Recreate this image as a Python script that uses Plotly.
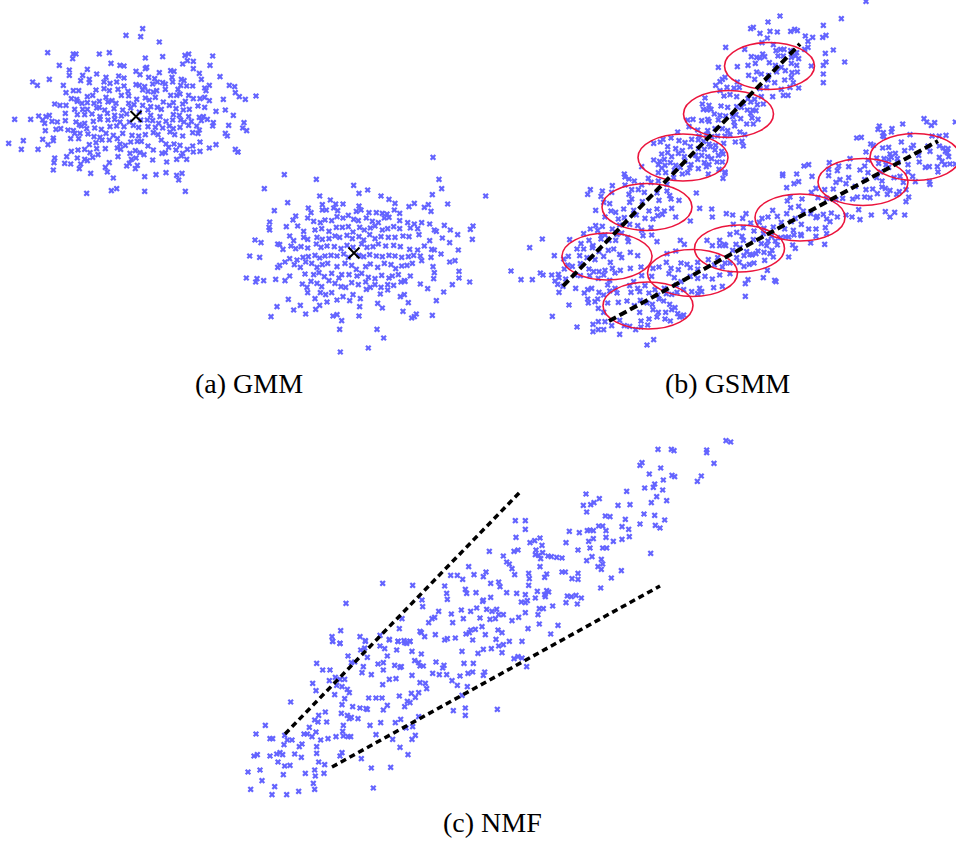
import plotly.graph_objects as go

W, H = 956, 843
UNITS_PER_PX = 3  # point coordinates below are recorded at 3 units per pixel, per tile

# ---------------- (a) GMM : two Gaussian clusters ----------------
gmm_cluster_1 = [
    (428,26),(378,46),(422,50),(478,66),(143,98),(220,102),(228,102),(298,102),(328,98),(218,116),
    (436,114),(488,110),(555,106),(566,102),(638,108),(178,136),(333,130),(360,136),(372,138),(440,142),
    (436,146),(548,132),(562,122),(580,124),(580,146),(630,136),(208,150),(262,148),(408,154),(420,164),
    (478,158),(512,152),(522,154),(598,160),(208,166),(248,166),(290,162),(318,172),(356,168),(372,174),
    (446,172),(464,176),(516,172),(544,178),(552,182),(604,178),(660,170),(98,186),(112,196),(148,178),
    (190,196),(242,182),(268,178),(268,188),(312,186),(330,190),(350,186),(372,198),(408,194),(418,196),
    (434,200),(458,192),(472,186),(488,188),(496,192),(518,186),(542,196),(578,198),(628,196),(688,196),
    (704,200),(220,212),(236,212),(198,218),(288,210),(312,206),(328,212),(354,208),(384,214),(428,210),
    (444,214),(460,216),(470,212),(496,208),(534,208),(560,198),(614,204),(618,212),(706,218),(768,228),
    (718,230),(736,238),(214,236),(230,238),(262,230),(278,226),(318,232),(336,242),(364,226),(386,228),
    (410,238),(436,234),(448,240),(466,232),(490,246),(512,226),(530,226),(540,222),(566,226),(580,236),
    (600,236),(614,232),(628,242),(670,238),(164,252),(180,256),(198,256),(232,244),(246,250),(262,248),
    (282,250),(298,244),(324,246),(348,250),(386,250),(402,254),(428,256),(452,260),(472,262),(508,256),
    (520,248),(548,252),(556,244),(594,258),(614,262),(224,268),(248,268),(262,268),(290,264),(298,262),
    (314,270),(342,266),(368,270),(392,264),(418,276),(444,270),(484,268),(528,266),(550,270),(568,268),
    (648,274),(676,270),(44,298),(92,298),(116,288),(138,290),(148,286),(196,280),(232,284),(254,284),
    (276,282),(300,290),(322,280),(344,286),(364,288),(380,282),(452,286),(480,290),(520,284),(538,286),
    (566,290),(598,292),(610,290),(700,286),(128,300),(134,310),(156,304),(172,306),(196,302),(228,306),
    (254,310),(280,304),(300,298),(324,300),(344,298),(360,306),(388,306),(422,300),(442,300),(458,302),
    (476,310),(498,304),(518,300),(542,300),(552,306),(574,304),(604,302),(622,298),(640,308),(732,308),
    (136,332),(168,328),(182,326),(204,330),(220,332),(238,314),(244,318),(260,326),(284,324),(304,328),
    (330,320),(350,318),(372,320),(400,316),(416,322),(444,320),(466,322),(488,324),(508,318),(520,326),
    (540,322),(566,316),(590,318),(598,330),(638,318),(686,316),(728,324),(740,332),(224,340),(240,340),
    (264,342),(282,350),(300,352),(318,340),(340,346),(352,356),(368,340),(396,346),(416,348),(436,344),
    (460,338),(474,344),(510,336),(524,344),(548,348),(578,338),(594,340),(676,340),(682,348),(26,370),
    (70,362),(64,388),(114,388),(128,358),(144,374),(160,354),(160,362),(212,356),(236,356),(268,374),
    (288,368),(306,360),(328,360),(360,372),(376,376),(392,366),(412,364),(424,364),(444,378),(484,360),
    (498,372),(506,382),(522,372),(540,376),(562,388),(578,378),(600,366),(628,384),(648,374),(706,388),
    (714,396),(214,394),(234,390),(254,388),(270,398),(290,386),(316,386),(352,384),(362,388),(390,400),
    (406,392),(420,398),(432,404),(460,390),(486,400),(496,398),(528,390),(548,400),(580,396),(600,394),
    (164,414),(200,410),(212,432),(232,414),(242,432),(254,418),(262,422),(278,412),(294,404),(328,428),
    (354,410),(380,438),(394,418),(408,414),(412,436),(458,420),(500,426),(530,418),(544,408),(560,418),
    (162,428),(160,450),(194,430),(238,446),(272,460),(316,442),(322,456),(388,430),(406,446),(434,470),
    (468,464),(498,458),(530,466),(546,460),(536,480),(340,474),(260,520),(334,512),(350,506),(434,514),
    (556,514),
]

gmm_cluster_2 = [
    (8,6),(594,22),(148,74),(244,88),(612,88),(88,116),(356,106),(398,120),(620,116),(372,130),
    (254,138),(438,138),(462,148),(592,134),(752,138),(158,158),(286,150),(262,164),(302,162),(324,162),
    (372,168),(480,160),(522,170),(538,160),(568,172),(580,164),(638,162),(118,182),(220,174),(228,188),
    (262,180),(274,180),(296,174),(308,182),(340,196),(364,184),(378,180),(402,188),(424,188),(442,190),
    (456,192),(478,180),(494,190),(588,184),(182,198),(174,210),(218,204),(236,214),(256,218),(270,210),
    (290,212),(306,200),(324,204),(356,208),(370,212),(394,204),(412,214),(430,218),(448,204),(462,202),
    (494,212),(518,218),(538,222),(560,218),(584,222),(628,226),(104,216),(102,232),(104,240),(154,230),
    (188,228),(206,244),(240,240),(260,236),(282,244),(304,232),(322,232),(340,230),(354,246),(374,232),
    (388,240),(406,234),(420,228),(442,240),(458,236),(476,230),(494,236),(526,234),(548,236),(598,240),
    (604,244),(646,240),(714,228),(706,238),(60,270),(78,278),(128,282),(164,258),(176,272),(206,262),
    (218,268),(246,262),(262,268),(282,266),(300,258),(314,262),(336,256),(352,266),(372,260),(386,270),
    (404,254),(420,266),(438,260),(460,262),(480,262),(504,258),(522,260),(552,254),(584,272),(622,264),
    (668,254),(712,268),(134,284),(144,298),(168,288),(182,296),(198,290),(218,294),(244,282),(258,292),
    (276,288),(298,290),(318,296),(336,286),(354,292),(380,282),(396,292),(414,290),(430,282),(452,288),
    (476,286),(496,290),(524,298),(548,300),(568,288),(590,298),(598,300),(644,278),(670,300),(44,318),
    (74,322),(164,326),(186,330),(204,322),(220,320),(240,316),(254,324),(270,318),(288,316),(306,318),
    (326,312),(340,322),(372,316),(386,320),(404,314),(424,318),(442,320),(462,316),(480,318),(500,322),
    (520,320),(536,316),(556,318),(588,322),(618,312),(128,352),(134,346),(150,336),(178,344),(196,352),
    (212,336),(230,340),(246,352),(262,344),(278,340),(306,350),(330,340),(350,346),(364,358),(392,350),
    (406,342),(428,352),(448,340),(468,344),(482,356),(500,348),(516,346),(532,340),(560,332),(594,350),
    (644,336),(660,332),(34,384),(66,386),(62,396),(86,392),(122,388),(150,392),(164,378),(210,372),
    (236,374),(252,368),(268,380),(290,370),(312,384),(320,374),(342,374),(366,378),(380,370),(400,382),
    (420,386),(440,376),(462,384),(472,378),(490,374),(508,392),(526,378),(598,368),(596,386),(672,364),
    (672,384),(704,396),(202,402),(216,412),(228,394),(246,400),(260,410),(282,392),(300,400),(318,410),
    (332,412),(350,398),(370,404),(392,396),(406,412),(420,404),(438,412),(458,404),(476,406),(498,396),
    (510,394),(556,402),(578,416),(652,404),(218,428),(240,446),(256,428),(272,434),(290,428),(324,440),
    (354,434),(376,446),(394,418),(436,432),(458,420),(496,440),(508,434),(626,426),(160,448),(196,466),
    (242,478),(254,466),(276,456),(306,450),(344,452),(374,470),(428,460),(442,474),(520,458),(604,452),
    (126,470),(176,480),(212,492),(294,498),(306,494),(320,512),(372,498),(504,484),(544,492),(530,504),
    (538,500),(592,496),(108,500),(314,538),(426,538),(446,564),(316,606),(400,594),
]

# cluster means (figure pixels)
gmm_mean_x = [136, 354]
gmm_mean_y = [116.5, 253]

# ---------------- (b) GSMM : samples in four quadrants ----------------
gsmm_nw = [
    (662,142),(640,202),(632,256),(645,245),(652,238),(660,232),(666,262),(645,272),(657,288),(600,294),
    (592,312),(612,316),(595,328),(606,330),(618,328),(648,318),(668,322),(628,342),(645,346),(662,348),
    (548,360),(564,358),(590,362),(608,358),(612,364),(640,360),(552,380),(578,390),(608,392),(630,386),
    (652,386),(668,392),(518,396),(582,408),(604,404),(620,410),(638,408),(660,408),(474,418),(498,414),
    (522,422),(540,428),(560,418),(580,420),(596,424),(612,432),(632,436),(656,430),(446,430),(466,426),
    (488,440),(512,446),(520,460),(532,452),(556,440),(580,446),(598,448),(616,440),(630,450),(650,454),
    (470,462),(488,458),(500,470),(538,470),(572,466),(590,466),(608,470),(620,476),(640,466),(654,462),
    (446,480),(464,484),(478,478),(496,488),(512,496),(540,484),(558,494),(578,478),(598,488),(612,494),
    (636,486),(652,486),(410,500),(460,494),(470,504),(480,496),(508,510),(526,502),(554,504),(580,506),
    (604,500),(642,508),(660,516),(358,522),(460,518),(482,518),(532,522),(548,518),(610,522),(660,520),
]

gsmm_ne = [
    (408,4),(150,48),(334,56),(114,66),(62,86),(70,82),(280,76),(90,100),(120,94),(142,96),
    (182,94),(194,88),(202,92),(112,114),(226,108),(248,112),(234,124),(288,106),(278,112),(44,148),
    (96,128),(130,134),(152,148),(138,152),(162,148),(182,152),(200,158),(224,148),(234,142),(286,160),
    (310,150),(344,186),(64,170),(80,172),(98,162),(104,170),(90,174),(144,168),(160,168),(184,172),
    (196,168),(206,176),(288,186),(280,196),(22,200),(54,196),(76,190),(118,188),(136,196),(154,202),
    (184,190),(200,196),(244,198),(80,216),(94,222),(116,226),(140,216),(166,212),(186,218),(202,216),
    (22,246),(56,226),(74,238),(114,240),(134,248),(164,240),(184,232),(190,248),(280,222),(280,248),
    (12,264),(28,262),(90,266),(110,262),(154,268),(180,262),(206,264),(0,284),(20,290),(54,296),
    (74,298),(94,290),(128,290),(160,286),(174,286),(40,310),(62,306),(82,314),(100,312),(20,320),
    (34,322),(52,330),(68,330),(78,332),(62,340),(8,350),(18,344),(32,356),(66,354),(84,358),
    (12,366),(50,372),(70,372),(14,378),(30,396),(44,404),(0,404),(16,426),(36,424),(40,438),
    (582,356),(590,366),(604,376),(614,368),(676,366),(448,378),(518,372),(444,388),(460,398),(486,386),
    (484,396),(380,414),(394,412),(458,408),(462,410),(540,404),(606,408),(628,408),(648,406),(422,432),
    (430,436),(514,426),(550,436),(458,444),(476,442),(544,444),(594,438),(628,438),(640,444),(654,446),
    (408,456),(480,462),(496,460),(524,452),(600,454),(646,454),(652,458),(440,474),(462,476),(476,478),
    (484,472),(502,476),(566,466),(628,472),(656,470),(298,488),(360,476),(414,480),(446,490),(504,488),
    (534,494),(568,486),(636,484),(644,494),(660,492),(222,498),(236,494),(296,508),(326,498),(356,500),
    (404,498),(468,494),(476,502),(586,502),(598,500),(622,500),(676,492),(158,522),(200,522),(322,512),
    (390,510),(414,518),(452,516),(534,516),(624,516),
]

gsmm_sw = [
    (360,6),(372,12),(388,18),(430,10),(506,8),(654,10),(322,32),(360,30),(410,30),(438,22),
    (460,18),(486,28),(256,44),(292,48),(248,58),(288,64),(320,52),(372,58),(380,44),(400,44),
    (418,52),(456,54),(486,48),(494,62),(574,54),(296,82),(314,86),(380,72),(374,82),(412,80),
    (462,76),(498,72),(522,76),(272,106),(318,108),(332,112),(356,102),(386,106),(432,108),(456,102),
    (478,108),(500,100),(584,100),(620,102),(664,116),(300,126),(340,132),(358,128),(394,120),(420,130),
    (444,132),(458,122),(472,118),(512,126),(622,126),(272,152),(292,154),(322,162),(344,150),(374,148),
    (398,152),(410,166),(438,158),(556,138),(236,176),(256,162),(278,166),(288,182),(300,180),(336,178),
    (350,174),(368,188),(414,182),(440,180),(194,194),(112,192),(228,206),(252,196),(264,212),(288,192),
    (312,196),(332,196),(370,200),(456,200),(526,196),(538,208),(606,196),(644,196),(658,208),(74,218),
    (148,242),(176,252),(216,222),(236,222),(262,218),(282,230),(310,226),(326,222),(344,238),(376,232),
    (398,242),(512,228),(486,236),(622,212),(644,212),(662,212),(190,244),(224,242),(246,248),(270,254),
    (296,244),(316,262),(350,248),(376,280),(484,262),(528,264),(546,268),(578,262),(610,254),(638,248),
    (18,288),(106,294),(140,300),(160,298),(178,282),(188,270),(202,274),(226,266),(252,282),(266,290),
    (282,290),(300,286),(322,280),(330,294),(346,286),(408,276),(444,280),(462,276),(498,280),(520,284),
    (556,278),(578,282),(628,270),(652,276),(660,264),(48,314),(82,314),(114,300),(150,318),(162,308),
    (182,312),(210,300),(226,302),(254,302),(280,310),(296,300),(314,316),(386,320),(410,302),(440,304),
    (492,296),(508,308),(528,320),(556,304),(578,310),(600,304),(622,312),(644,300),(158,328),(174,334),
    (212,340),(248,344),(260,340),(282,352),(308,330),(330,340),(374,332),(398,340),(420,332),(450,344),
    (478,340),(514,330),(536,344),(560,350),(584,340),(626,338),(652,334),(162,352),(238,354),(248,372),
    (278,372),(296,360),(314,348),(336,354),(378,352),(404,350),(432,354),(458,360),(484,356),(500,358),
    (516,352),(578,356),(590,350),(192,390),(250,384),(270,380),(308,384),(340,382),(366,378),(388,392),
    (406,376),(426,384),(442,388),(462,372),(476,378),(494,388),(510,398),(142,424),(280,400),(296,412),
    (404,412),(444,404),(460,412),(482,412),(500,404),(518,416),(530,424),(216,456),(264,448),(280,440),
    (300,440),(320,452),(344,436),(374,454),(408,438),(432,432),(456,426),(480,432),(496,438),(524,426),
    (536,420),(264,470),(280,464),(296,464),(344,478),(358,452),(392,464),(408,456),(428,450),(446,494),
    (426,510),
]

gsmm_se = [
    (158,2),(206,20),(192,26),(246,4),(296,2),(330,14),(356,8),(404,14),(440,8),(456,18),
    (492,8),(510,4),(520,22),(548,4),(556,20),(598,20),(600,28),(170,38),(258,40),(284,44),
    (310,42),(318,22),(348,26),(376,34),(408,44),(428,42),(456,36),(466,40),(480,46),(508,50),
    (528,44),(536,66),(180,66),(172,78),(216,72),(244,52),(264,68),(290,70),(318,74),(338,70),
    (368,72),(382,66),(404,66),(420,68),(442,56),(472,58),(500,58),(528,80),(128,106),(182,98),
    (206,94),(220,108),(242,116),(262,124),(280,118),(304,114),(386,104),(466,110),(494,112),(524,120),
    (8,120),(38,130),(48,116),(96,130),(114,126),(142,124),(170,116),(184,140),(196,130),(214,148),
    (258,128),(290,132),(322,126),(348,120),(366,126),(390,134),(424,120),(480,126),(10,148),(40,158),
    (62,144),(88,142),(102,160),(130,156),(154,142),(164,162),(190,166),(212,178),(236,162),(258,162),
    (286,158),(300,140),(0,178),(20,172),(36,184),(72,168),(100,176),(124,184),(152,188),(176,186),
    (192,180),(214,182),(258,184),(290,176),(18,208),(40,196),(70,194),(94,206),(114,198),(136,198),
    (166,186),(188,210),(242,204),(284,208),(8,226),(30,218),(50,230),(66,240),(84,228),(110,212),
    (126,226),(142,210),(196,220),(20,248),(42,242),(60,238),(78,236),(102,232),(120,236),(176,246),
    (0,264),(28,262),(58,268),(104,256),(130,246),(42,274),(72,264),(112,286),(0,296),(100,308),
    (134,316),(138,320),(46,326),(54,314),(46,364),
]

# mixture components: centres and semi-axes (figure pixels)
gsmm_cx = [769.5, 728.5, 683, 647, 607, 648, 692.5, 739.5, 800, 863, 915]
gsmm_cy = [66, 114, 157.5, 207, 256.5, 305.5, 273, 248.5, 217.5, 182, 157]
gsmm_rx = [45, 45, 45, 45, 45, 45, 45, 45, 45, 45, 45]
gsmm_ry = [23.5, 23.5, 23.5, 23.5, 23.5, 23.5, 23.5, 23.5, 23.5, 23.5, 23.5]

# principal subspaces: (x0, y0, x1, y1)
gsmm_axes = [(563, 286, 800, 44), (609, 321, 938, 141)]

# ---------------- (c) NMF ----------------
nmf_low = [
    (254,4),(276,10),(352,4),(396,18),(424,0),(450,4),(470,8),(486,4),(492,34),(520,42),
    (338,30),(350,24),(358,52),(410,26),(418,48),(446,30),(300,48),(310,68),(320,66),(206,70),
    (224,90),(246,90),(346,80),(342,98),(370,104),(390,72),(406,68),(406,90),(440,76),(456,82),
    (460,80),(500,62),(512,68),(516,78),(526,78),(492,106),(262,112),(276,118),(290,118),(244,122),
    (194,130),(204,152),(266,136),(282,140),(298,148),(304,158),(404,134),(424,118),(444,116),(516,128),
    (532,130),(536,146),(490,160),(512,158),(128,186),(260,164),(290,176),(282,194),(314,200),(336,204),
    (354,206),(358,208),(362,174),(384,174),(402,174),(418,196),(406,210),(454,168),(478,184),(486,188),
    (470,200),(502,172),(232,216),(212,226),(210,246),(200,240),(184,262),(204,276),(236,246),(280,220),
    (298,226),(304,236),(310,232),(330,236),(286,256),(366,256),(398,248),(442,248),(458,238),(494,260),
    (512,230),(52,256),(24,282),(66,296),(74,296),(110,286),(118,300),(132,300),(168,282),(178,282),
    (192,290),(218,300),(240,296),(264,290),(284,274),(286,288),(300,290),(308,290),(384,284),(434,298),
    (492,298),(502,286),(474,264),(108,314),(162,312),(154,320),(206,320),(18,348),(28,344),(66,348),
    (86,342),(96,338),(104,344),(140,342),(160,352),(206,340),(282,338),(276,348),(340,356),(456,322),
    (480,344),(90,366),(110,378),(126,376),(212,366),(230,374),(0,396),(36,390),(106,404),(172,400),
    (200,390),(202,408),(228,400),(370,384),(428,382),(42,422),(80,440),(196,430),(200,448),(376,444),
    (8,448),(72,464),(116,464),(152,454),
]

nmf_mid = [
    (538,34),(580,48),(612,34),(624,30),(590,66),(598,72),(476,80),(606,86),(422,106),(442,106),
    (492,104),(520,110),(528,96),(614,104),(218,130),(308,136),(404,138),(458,118),(542,130),(566,126),
    (570,140),(108,190),(410,160),(412,178),(466,148),(470,160),(498,158),(518,184),(542,172),(520,180),
    (590,158),(620,160),(336,180),(338,200),(386,214),(424,222),(454,210),(482,214),(500,204),(530,208),
    (546,214),(560,208),(566,224),(580,224),(276,236),(356,248),(366,236),(374,232),(428,248),(460,236),
    (510,234),(540,238),(556,236),(606,242),(626,232),(268,266),(330,274),(334,278),(376,284),(404,300),
    (412,296),(436,294),(468,282),(478,278),(482,270),(496,268),(516,260),(526,284),(564,270),(576,278),
    (92,272),(66,290),(68,304),(90,310),(150,290),(166,302),(210,286),(238,298),(264,304),(282,302),
    (290,310),(300,304),(344,290),(456,334),(488,300),(504,340),(520,328),(544,326),(558,298),(566,318),
    (580,314),(576,338),(598,304),(612,356),(624,350),(378,366),(402,376),(368,400),(388,404),(410,404),
    (398,384),(426,422),(450,408),(474,400),(488,396),(462,370),(472,440),(442,436),(456,466),(466,504),
    (466,526),(430,512),(520,406),(524,396),(562,508),(490,370),
]

nmf_upper = [
    (408,72),(448,86),(400,106),(422,104),(432,98),(410,126),(504,106),(466,138),(480,140),(196,152),
    (226,152),(226,178),(358,184),(388,188),(412,182),(420,180),(430,182),(446,168),(458,168),(468,182),
    (198,202),(240,218),(254,212),(270,204),(348,218),(416,214),(430,206),(468,202),(490,214),(258,240),
    (276,226),(384,240),(420,234),(458,234),(470,234),(256,254),(266,256),(272,266),(278,248),(294,258),
    (304,260),(320,262),(336,264),(410,272),(426,260),(454,268),(270,290),(290,312),(284,322),(236,310),
    (238,326),(336,306),(346,306),(384,310),(366,326),(384,328),(444,290),(458,282),(454,298),(484,324),
    (452,354),(236,346),(262,364),(226,374),(256,384),(284,374),(290,362),(296,366),(286,380),(352,378),
    (364,380),(378,376),(394,384),(382,402),(348,398),(214,396),(226,398),(232,392),(268,416),(280,416),
    (308,408),(226,428),(264,434),(268,462),(324,466),(234,476),(302,492),(216,514),(216,564),(230,590),
]

nmf_top = [
    (498,32),(512,36),(294,58),(334,58),(342,62),(440,60),(440,68),(246,98),(240,106),(462,100),
    (302,114),(268,132),(336,136),(344,140),(424,138),(412,154),(310,150),(284,162),(280,172),(254,174),
    (200,184),(308,180),(290,200),(210,224),(274,218),(320,212),(252,252),(284,256),(196,268),(314,270),
    (240,282),(286,286),(300,294),(186,290),(206,298),(186,328),(208,320),(272,370),(184,422),
]

# NMF basis directions: (x0, y0, x1, y1)
nmf_axes = [(285, 734, 521, 491), (332, 767, 660, 586)]

captions = ["(a) GMM", "(b) GSMM", "(c) NMF"]
caption_x = [249, 727, 492]
caption_y = [383, 383, 822]

# tile placement in the figure: (left, top, width, height) in pixels
tiles = [
    (gmm_cluster_1, (0, 20, 260, 180)),
    (gmm_cluster_2, (235, 150, 260, 210)),
    (gsmm_nw, (505, 0, 225, 175)),
    (gsmm_ne, (730, 0, 226, 175)),
    (gsmm_sw, (505, 175, 225, 175)),
    (gsmm_se, (730, 175, 226, 175)),
    (nmf_low, (248, 640, 180, 160)),
    (nmf_mid, (310, 540, 210, 190)),
    (nmf_upper, (450, 470, 170, 230)),
    (nmf_top, (560, 430, 180, 150)),
]

POINT_COLOR = "rgb(100,100,255)"
ELLIPSE_COLOR = "rgb(235,20,60)"

fig = go.Figure()
layout_axes = {}
for i, (pts, (x0, y0, w, h)) in enumerate(tiles, start=1):
    sfx = "" if i == 1 else str(i)
    xs = [p[0] for p in pts]
    ys = [p[1] for p in pts]
    fig.add_trace(go.Scatter(
        x=xs, y=ys, mode="markers", xaxis="x" + sfx, yaxis="y" + sfx,
        marker=dict(symbol="x", size=5.5, color=POINT_COLOR, line=dict(width=0)),
        cliponaxis=False, hoverinfo="skip", showlegend=False,
    ))
    layout_axes["xaxis" + sfx] = dict(
        domain=[x0 / W, (x0 + w) / W], range=[0, UNITS_PER_PX * w],
        anchor="y" + sfx, visible=False, fixedrange=True)
    layout_axes["yaxis" + sfx] = dict(
        domain=[1 - (y0 + h) / H, 1 - y0 / H], range=[UNITS_PER_PX * h, 0],
        anchor="x" + sfx, visible=False, fixedrange=True)

# full-figure overlay axis in pixel units for means, components and captions
ov = len(tiles) + 1
XO, YO = f"x{ov}", f"y{ov}"
layout_axes[f"xaxis{ov}"] = dict(domain=[0, 1], range=[0, W], anchor=YO, visible=False, fixedrange=True)
layout_axes[f"yaxis{ov}"] = dict(domain=[0, 1], range=[H, 0], anchor=XO, visible=False, fixedrange=True)

fig.add_trace(go.Scatter(
    x=gmm_mean_x, y=gmm_mean_y, mode="markers", xaxis=XO, yaxis=YO,
    marker=dict(symbol="x-thin", size=11, line=dict(width=2, color="black")),
    cliponaxis=False, hoverinfo="skip", showlegend=False,
))

shapes = []
for cx, cy, rx, ry in zip(gsmm_cx, gsmm_cy, gsmm_rx, gsmm_ry):
    shapes.append(dict(type="circle", xref=XO, yref=YO, x0=cx - rx, x1=cx + rx, y0=cy - ry, y1=cy + ry,
                       line=dict(color=ELLIPSE_COLOR, width=1.6)))
for (x0, y0, x1, y1) in gsmm_axes:
    shapes.append(dict(type="line", xref=XO, yref=YO, x0=x0, y0=y0, x1=x1, y1=y1,
                       line=dict(color="black", width=4, dash="8px,4px")))
for (x0, y0, x1, y1) in nmf_axes:
    shapes.append(dict(type="line", xref=XO, yref=YO, x0=x0, y0=y0, x1=x1, y1=y1,
                       line=dict(color="black", width=3.5, dash="6px,4px")))

annotations = [
    dict(text=t, x=x, y=y, xref=XO, yref=YO, showarrow=False, xanchor="center", yanchor="middle",
         font=dict(family="Liberation Serif, DejaVu Serif, serif", size=28, color="black"))
    for t, x, y in zip(captions, caption_x, caption_y)
]

fig.update_layout(
    width=W, height=H, margin=dict(l=0, r=0, t=0, b=0),
    paper_bgcolor="white", plot_bgcolor="rgba(0,0,0,0)",
    shapes=shapes, annotations=annotations, showlegend=False,
    **layout_axes,
)

fig.write_html("out.html")
